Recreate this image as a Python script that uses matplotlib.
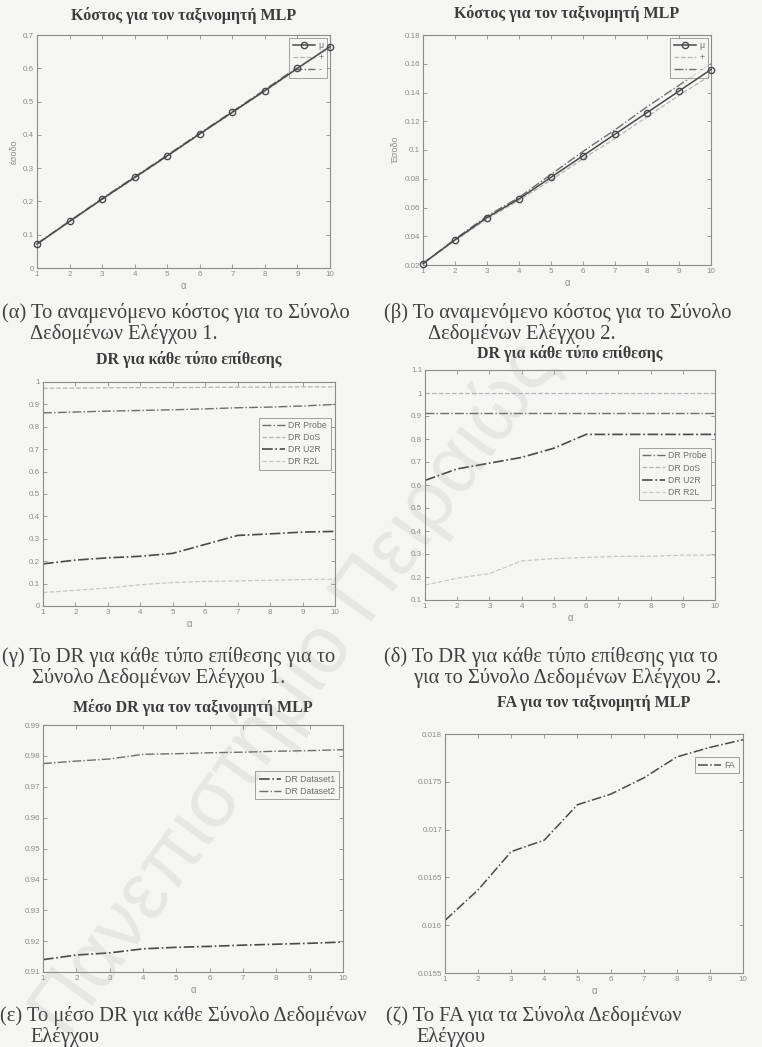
import numpy as np
import matplotlib
matplotlib.use("Agg")
import matplotlib.pyplot as plt

W, H = 762, 1047
alpha_vals = np.arange(1, 11)

# (α) expected cost, test set 1
cost1_mean = [0.072, 0.140, 0.207, 0.272, 0.337, 0.403, 0.468, 0.533, 0.600, 0.665]
cost1_plus = [0.071, 0.139, 0.205, 0.270, 0.335, 0.401, 0.466, 0.531, 0.597, 0.662]
cost1_minus = [0.073, 0.141, 0.209, 0.274, 0.339, 0.405, 0.470, 0.536, 0.603, 0.668]

# (β) expected cost, test set 2
cost2_mean = [0.021, 0.0375, 0.053, 0.066, 0.081, 0.096, 0.111, 0.126, 0.141, 0.156]
cost2_plus = [0.021, 0.037, 0.052, 0.065, 0.079, 0.094, 0.108, 0.123, 0.138, 0.152]
cost2_minus = [0.021, 0.038, 0.054, 0.067, 0.083, 0.099, 0.114, 0.130, 0.145, 0.160]

# (γ) DR per attack type, test set 1
dr1_probe = [0.862, 0.866, 0.870, 0.873, 0.876, 0.880, 0.885, 0.888, 0.893, 0.900]
dr1_dos = [0.972, 0.973, 0.974, 0.975, 0.975, 0.976, 0.977, 0.977, 0.978, 0.978]
dr1_u2r = [0.188, 0.205, 0.215, 0.222, 0.235, 0.275, 0.315, 0.322, 0.330, 0.333]
dr1_r2l = [0.060, 0.070, 0.080, 0.095, 0.105, 0.110, 0.112, 0.115, 0.118, 0.120]

# (δ) DR per attack type, test set 2
dr2_probe = [0.915, 0.915, 0.915, 0.915, 0.915, 0.915, 0.915, 0.915, 0.915, 0.915]
dr2_dos = [1.0, 1.0, 1.0, 1.0, 1.0, 1.0, 1.0, 1.0, 1.0, 1.0]
dr2_u2r = [0.620, 0.670, 0.695, 0.720, 0.760, 0.820, 0.820, 0.820, 0.820, 0.820]
dr2_r2l = [0.165, 0.195, 0.215, 0.270, 0.280, 0.285, 0.290, 0.290, 0.295, 0.295]

# (ε) mean DR per test set
mean_dr_set1 = [0.9140, 0.9155, 0.9162, 0.9175, 0.9180, 0.9183, 0.9187, 0.9190, 0.9193, 0.9197]
mean_dr_set2 = [0.9775, 0.9783, 0.9790, 0.9805, 0.9807, 0.9810, 0.9812, 0.9815, 0.9817, 0.9820]

# (ζ) false alarms
fa_vals = [0.01605, 0.01637, 0.01677, 0.01689, 0.01726, 0.01737, 0.01754, 0.01776, 0.01786, 0.01794]

BG = "#f5f5f4"
FRAME = "#8a8a8a"
TICK = "#8c8c8c"
DARK = "#4a4a4a"
MID = "#6e6e6e"
LIGHT = "#b5b5b5"
SERIF = ["Liberation Serif", "DejaVu Serif"]
SANS = ["Liberation Sans", "DejaVu Sans"]

fig = plt.figure(figsize=(W / 100, H / 100), dpi=100, facecolor=BG)


def rect(left, top, right, bottom):
    return [left / W, 1 - bottom / H, (right - left) / W, (bottom - top) / H]


def make_axes(box, ylim, yticks, ylabels, title, title_y):
    ax = fig.add_axes(rect(*box), facecolor=BG)
    ax.set_xlim(1, 10)
    ax.set_ylim(*ylim)
    ax.set_xticks(alpha_vals)
    ax.set_yticks(yticks)
    ax.set_yticklabels(ylabels)
    ax.tick_params(direction="in", length=3, width=0.6, colors=TICK,
                   labelsize=5.8, top=True, right=True, pad=2)
    for lab in ax.get_xticklabels() + ax.get_yticklabels():
        lab.set_family(SANS)
    for sp in ax.spines.values():
        sp.set_color(FRAME)
        sp.set_linewidth(0.8)
    ax.set_xlabel("α", fontsize=7, color=TICK, family=SANS, labelpad=2)
    cx = (box[0] + box[2]) / 2 / W
    fig.text(cx, 1 - title_y / H, title, ha="center", va="center",
             fontsize=11.5, fontweight="bold", color="#3c3c3c", family=SERIF)
    return ax


def legend(ax, **kw):
    lg = ax.legend(fontsize=6, frameon=True, fancybox=False, handlelength=2.6,
                   borderpad=0.4, labelspacing=0.35, handletextpad=0.4,
                   prop={"family": SANS, "size": 6.3}, **kw)
    lg.get_frame().set_edgecolor(FRAME)
    lg.get_frame().set_linewidth(0.7)
    lg.get_frame().set_facecolor(BG)
    for t in lg.get_texts():
        t.set_color(MID)
    return lg


def caption(x, y, lines, indent):
    for i, s in enumerate(lines):
        fig.text((x + (indent if i else 0)) / W, 1 - (y + 21 * i) / H, s,
                 ha="left", va="center", fontsize=14.8, color="#404040",
                 family=SERIF)


title_cost = "Κόστος για τον ταξινομητή MLP"
title_dr = "DR για κάθε τύπο επίθεσης"

# (α)
ax = make_axes((37, 35, 330, 268), (0, 0.7), np.arange(0, 0.71, 0.1),
               ["0", "0.1", "0.2", "0.3", "0.4", "0.5", "0.6", "0.7"], title_cost, 16)
ax.plot(alpha_vals, cost1_plus, "--", color=LIGHT, lw=0.9, label="+")
ax.plot(alpha_vals, cost1_minus, "-.", color=MID, lw=1.0, label="-")
ax.plot(alpha_vals, cost1_mean, "-", color=DARK, lw=1.1, marker="o", ms=4.5,
        mfc="none", mec=DARK, mew=1.0, label="μ", clip_on=False, zorder=6)
ax.set_ylabel("έσοδο", fontsize=6.5, color=TICK, family=SANS, labelpad=3)
h, l = ax.get_legend_handles_labels()
lg = legend(ax, handles=[h[2], h[0], h[1]], labels=[l[2], l[0], l[1]],
            loc="upper right", borderaxespad=0.3)
lg.set_zorder(5)

# (β)
ax = make_axes((423, 35, 711, 265), (0.02, 0.18), np.arange(0.02, 0.181, 0.02),
               ["0.02", "0.04", "0.06", "0.08", "0.1", "0.12", "0.14", "0.16", "0.18"],
               title_cost, 13)
ax.plot(alpha_vals, cost2_plus, "--", color=LIGHT, lw=0.9, label="+")
ax.plot(alpha_vals, cost2_minus, "-.", color=MID, lw=1.0, label="-")
ax.plot(alpha_vals, cost2_mean, "-", color=DARK, lw=1.1, marker="o", ms=4.5,
        mfc="none", mec=DARK, mew=1.0, label="μ", clip_on=False, zorder=6)
ax.set_ylabel("Έσοδο", fontsize=6.5, color=TICK, family=SANS, labelpad=3)
h, l = ax.get_legend_handles_labels()
lg = legend(ax, handles=[h[2], h[0], h[1]], labels=[l[2], l[0], l[1]],
            loc="upper right", borderaxespad=0.3)
lg.set_zorder(5)

caption(2, 313, ["(α) Το αναμενόμενο κόστος για το Σύνολο", "Δεδομένων Ελέγχου 1."], 28)
caption(384, 313, ["(β) Το αναμενόμενο κόστος για το Σύνολο", "Δεδομένων Ελέγχου 2."], 44)

# (γ)
ax = make_axes((43, 382, 335, 606), (0, 1), np.arange(0, 1.01, 0.1),
               ["0", "0.1", "0.2", "0.3", "0.4", "0.5", "0.6", "0.7", "0.8", "0.9", "1"],
               title_dr, 359)
ax.plot(alpha_vals, dr1_probe, "-.", color=MID, lw=1.0, label="DR Probe")
ax.plot(alpha_vals, dr1_dos, "--", color=LIGHT, lw=0.9, label="DR DoS")
ax.plot(alpha_vals, dr1_u2r, "-.", color=DARK, lw=1.2, label="DR U2R")
ax.plot(alpha_vals, dr1_r2l, "--", color="#c8c8c8", lw=0.9, label="DR R2L")
legend(ax, loc="upper right", bbox_to_anchor=(1.0, 0.86))

# (δ)
ax = make_axes((425, 370, 715, 600), (0.1, 1.1), np.arange(0.1, 1.11, 0.1),
               ["0.1", "0.2", "0.3", "0.4", "0.5", "0.6", "0.7", "0.8", "0.9", "1", "1.1"],
               title_dr, 354)
ax.plot(alpha_vals, dr2_probe, "-.", color=MID, lw=1.0, label="DR Probe")
ax.plot(alpha_vals, dr2_dos, "--", color=LIGHT, lw=0.9, label="DR DoS")
ax.plot(alpha_vals, dr2_u2r, "-.", color=DARK, lw=1.2, label="DR U2R")
ax.plot(alpha_vals, dr2_r2l, "--", color="#c8c8c8", lw=0.9, label="DR R2L")
legend(ax, loc="upper right", bbox_to_anchor=(1.0, 0.68))

caption(2, 657, ["(γ) Το DR για κάθε τύπο επίθεσης για το", "Σύνολο Δεδομένων Ελέγχου 1."], 30)
caption(384, 657, ["(δ) Το DR για κάθε τύπο επίθεσης για το", "για το Σύνολο Δεδομένων Ελέγχου 2."], 30)

# (ε)
ax = make_axes((43, 725, 343, 972), (0.91, 0.99), np.arange(0.91, 0.991, 0.01),
               ["0.91", "0.92", "0.93", "0.94", "0.95", "0.96", "0.97", "0.98", "0.99"],
               "Μέσο DR για τον ταξινομητή MLP", 708)
ax.plot(alpha_vals, mean_dr_set1, "-.", color=DARK, lw=1.2, label="DR Dataset1")
ax.plot(alpha_vals, mean_dr_set2, "-.", color=MID, lw=1.0, label="DR Dataset2")
legend(ax, loc="upper right", bbox_to_anchor=(1.0, 0.83))

# (ζ)
ax = make_axes((445, 734, 743, 973), (0.0155, 0.018), np.arange(0.0155, 0.01801, 0.0005),
               ["0.0155", "0.016", "0.0165", "0.017", "0.0175", "0.018"],
               "FA για τον ταξινομητή MLP", 703)
ax.plot(alpha_vals, fa_vals, "-.", color=DARK, lw=1.1, label="FA")
legend(ax, loc="upper right", bbox_to_anchor=(1.0, 0.92))

caption(0, 1016, ["(ε) Το μέσο DR για κάθε Σύνολο Δεδομένων", "Ελέγχου"], 30)
caption(386, 1016, ["(ζ) Το FA για τα Σύνολα Δεδομένων", "Ελέγχου"], 30)

# faint diagonal watermark across the page
fig.text(295 / W, 1 - 690 / H, "Πανεπιστήμιο Πειραιώς", rotation=54,
         ha="center", va="center", fontsize=58, color="#9a9a9a", alpha=0.16,
         family=["Liberation Sans", "DejaVu Sans"], zorder=10)

fig.savefig("out.png", dpi=100, facecolor=BG)
